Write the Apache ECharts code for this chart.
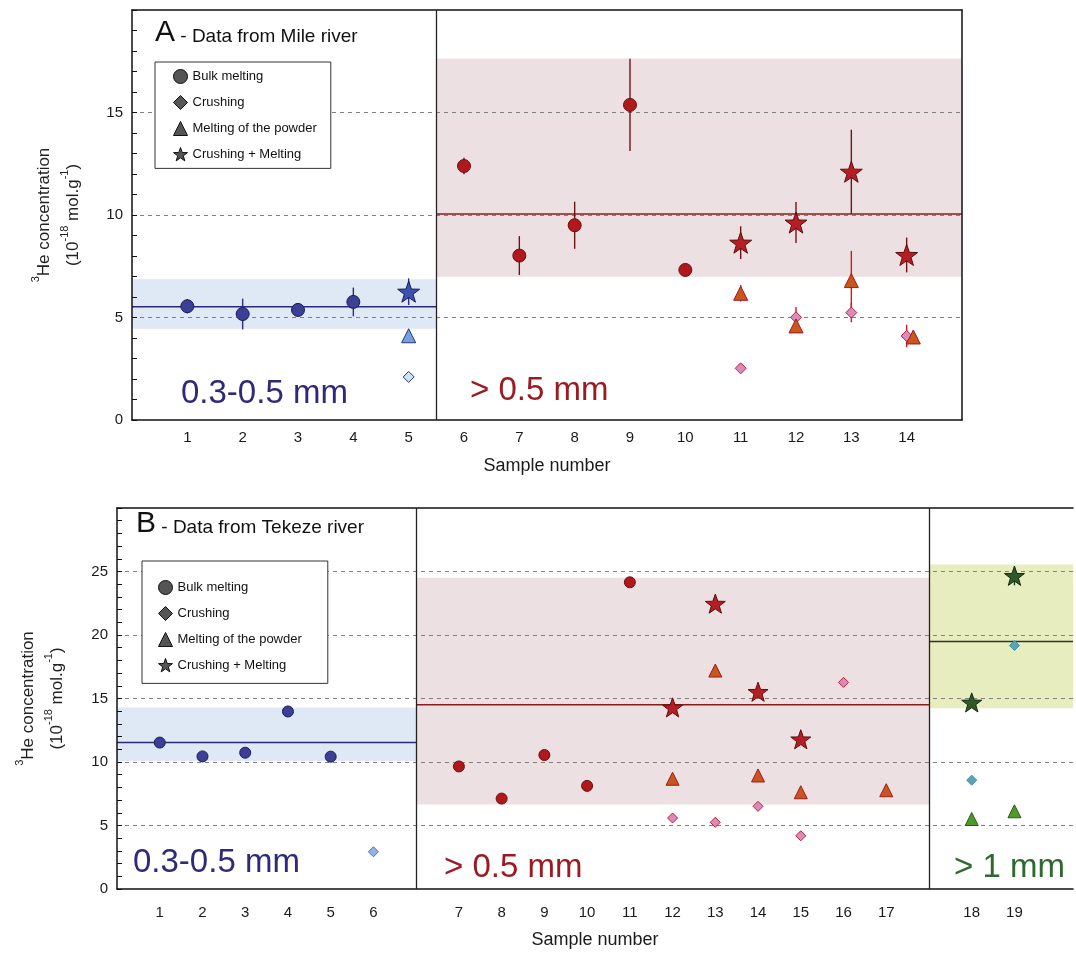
<!DOCTYPE html>
<html>
<head>
<meta charset="utf-8">
<script src="https://cdn.jsdelivr.net/npm/echarts@6/dist/echarts.min.js"></script>
<style>
html, body { margin: 0; padding: 0; background: #fff; }
#chart { width: 1076px; height: 954px; }
</style>
</head>
<body>
<div id="chart"></div>
<script>
/* A - Mile river, x = sample number */
var aSampleLabels = [1, 2, 3, 4, 5, 6, 7, 8, 9, 10, 11, 12, 13, 14];
var aBulkX = [1, 2, 3, 4, 6, 7, 8, 9, 10];
var aBulkY = [5.55, 5.17, 5.37, 5.76, 12.39, 8.02, 9.5, 15.37, 7.32];
var aBulkErr = [0.35, 0.75, 0.1, 0.7, 0.4, 0.95, 1.15, 2.25, 0.2];
var aCrushX = [5, 11, 12, 13, 14];
var aCrushY = [2.1, 2.52, 5.01, 5.24, 4.1];
var aCrushErr = [0, 0.15, 0.5, 0.47, 0.55];
var aPowderX = [5, 11, 12, 13, 14.12];
var aPowderY = [4.11, 6.18, 4.59, 6.8, 4.05];
var aPowderErr = [0.15, 0.4, 0.35, 1.45, 0];
var aStarX = [5, 11, 12, 13, 14];
var aStarY = [6.26, 8.65, 9.63, 12.11, 8.05];
var aStarErr = [0.65, 0.8, 1.0, 2.05, 0.85];
// size classes (mean value and its spread)
var aClassFrom = [0, 5.5];
var aClassTo = [5.5, 15];
var aClassLow = [4.45, 6.99];
var aClassHigh = [6.87, 17.64];
var aClassMean = [5.53, 10.05];
var aClassText = ['0.3-0.5 mm', '> 0.5 mm'];

/* B - Tekeze river, samples placed on axis positions (gaps between classes) */
var bSampleLabels = [1, 2, 3, 4, 5, 6, 7, 8, 9, 10, 11, 12, 13, 14, 15, 16, 17, 18, 19];
var bSamplePos = [1, 2, 3, 4, 5, 6, 8, 9, 10, 11, 12, 13, 14, 15, 16, 17, 18, 20, 21];
var bBulkS = [1, 2, 3, 4, 5, 7, 8, 9, 10, 11];
var bBulkY = [11.53, 10.44, 10.73, 13.98, 10.42, 9.65, 7.12, 10.55, 8.12, 24.15];
var bCrushS = [6, 12, 13, 14, 15, 16, 18, 19];
var bCrushY = [2.93, 5.59, 5.25, 6.51, 4.19, 16.27, 8.57, 19.17];
var bPowderS = [12, 13, 14, 15, 17, 18, 19];
var bPowderY = [8.68, 17.2, 8.94, 7.62, 7.78, 5.51, 6.12];
var bStarS = [12, 13, 14, 15, 18, 19];
var bStarY = [14.3, 22.47, 15.53, 11.79, 14.69, 24.66];
var bStarErr = [0, 0, 0, 0, 0, 0.75];
var bClassFrom = [0, 7, 19];
var bClassTo = [7, 19, 22.37];
var bClassLow = [10.07, 6.65, 14.24];
var bClassHigh = [14.3, 24.5, 25.55];
var bClassMean = [11.53, 14.5, 19.49];
var bClassText = ['0.3-0.5 mm', '> 0.5 mm', '> 1 mm'];

var methodNames = ['Bulk melting', 'Crushing', 'Melting of the powder', 'Crushing + Melting'];

var FONT = '"Liberation Sans", Arial, Helvetica, sans-serif';
var STAR = 'path://M50,2 L61.8,36.2 L97.6,36.9 L69,58.6 L79.4,93 L50,72.5 L20.6,93 L31,58.6 L2.4,36.9 L38.2,36.2 Z';

// colours per size class: [fill, border, error bar]
var blueA = { bulk: ['#3b3f96', '#1a1b58', '#2b2f7a'], crush: ['#cde3ef', '#2b3288', '#2b2f7a'],
	powder: ['#76a1da', '#2b3288', '#2b2f7a'], star: ['#3d52ad', '#1a1b58', '#2b2f7a'],
	band: '#dfe8f5', mean: '#2b2a7a', text: '#2d2a7c' };
var blueB = { bulk: ['#3b3f96', '#1a1b58', '#2b2f7a'], crush: ['#93b3e8', '#4b6cc4', '#4b6cc4'],
	powder: ['#76a1da', '#2b3288', '#2b2f7a'], star: ['#3d52ad', '#1a1b58', '#2b2f7a'],
	band: '#dfe8f5', mean: '#2b2a7a', text: '#2d2a7c' };
var red = { bulk: ['#b0181c', '#6a0e0e', '#6e1414'], crush: ['#d78cbf', '#c81e2e', '#c42020'],
	powder: ['#c9561c', '#a3181c', '#c42020'], star: ['#b51f24', '#5c0d0d', '#6e1414'],
	band: '#ede0e2', mean: '#8b1a1a', text: '#9a1b22' };
var green = { bulk: ['#2e5a2a', '#142814', '#1e3a1e'], crush: ['#5aa5b5', '#468ba0', '#468ba0'],
	powder: ['#4e9b2c', '#2a5a1a', '#2a5a1a'], star: ['#2e5a2a', '#142814', '#1e3a1e'],
	band: '#e8edc0', mean: '#2a3a20', text: '#2e6a30' };
var palA = [blueA, red];
var palB = [blueB, red, green];

function classOf(from, to, x) {
	for (var i = 0; i < from.length; i++) {
		if (x >= from[i] && x < to[i]) return i;
	}
	return from.length - 1;
}

// builds scatter points and error bars of one method
function buildSet(xs, ys, errs, from, to, pal, kind) {
	var pts = [], bars = [];
	for (var i = 0; i < xs.length; i++) {
		var c = pal[classOf(from, to, xs[i])][kind];
		pts.push({ value: [xs[i], ys[i]], itemStyle: { color: c[0], borderColor: c[1], borderWidth: 1, opacity: 1 } });
		if (errs && errs[i]) {
			bars.push({ value: [xs[i], ys[i], errs[i]], itemStyle: { color: c[2] } });
		}
	}
	return { pts: pts, bars: bars };
}

function toPos(samples) {
	return samples.map(function (s) { return bSamplePos[s - 1]; });
}

var aSets = [
	buildSet(aBulkX, aBulkY, aBulkErr, aClassFrom, aClassTo, palA, 'bulk'),
	buildSet(aCrushX, aCrushY, aCrushErr, aClassFrom, aClassTo, palA, 'crush'),
	buildSet(aPowderX, aPowderY, aPowderErr, aClassFrom, aClassTo, palA, 'powder'),
	buildSet(aStarX, aStarY, aStarErr, aClassFrom, aClassTo, palA, 'star')
];
var bSets = [
	buildSet(toPos(bBulkS), bBulkY, null, bClassFrom, bClassTo, palB, 'bulk'),
	buildSet(toPos(bCrushS), bCrushY, null, bClassFrom, bClassTo, palB, 'crush'),
	buildSet(toPos(bPowderS), bPowderY, null, bClassFrom, bClassTo, palB, 'powder'),
	buildSet(toPos(bStarS), bStarY, bStarErr, bClassFrom, bClassTo, palB, 'star')
];

function bandData(from, to, low, high, mean, pal) {
	var out = [];
	for (var i = 0; i < from.length; i++) {
		out.push({ value: [from[i], to[i], low[i], high[i], mean[i]], band: pal[i].band, mean: pal[i].mean });
	}
	return out;
}

var bandsA = bandData(aClassFrom, aClassTo, aClassLow, aClassHigh, aClassMean, palA);
var bandsB = bandData(bClassFrom, bClassTo, bClassLow, bClassHigh, bClassMean, palB);

function renderBand(params, api) {
	var d = params.dataIndex;
	var x0 = api.value(0), x1 = api.value(1), lo = api.value(2), hi = api.value(3), m = api.value(4);
	var tl = api.coord([x0, hi]), br = api.coord([x1, lo]);
	var ml = api.coord([x0, m]), mr = api.coord([x1, m]);
	var raw = params.seriesIndex === 0 ? bandsA[d] : bandsB[d];
	return {
		type: 'group',
		children: [
			{ type: 'rect', shape: { x: tl[0], y: tl[1], width: br[0] - tl[0], height: br[1] - tl[1] },
				style: { fill: raw.band } },
			{ type: 'line', shape: { x1: ml[0], y1: ml[1], x2: mr[0], y2: mr[1] },
				style: { stroke: raw.mean, lineWidth: 1.5 } }
		]
	};
}

function renderErr(params, api) {
	var x = api.value(0), y = api.value(1), e = api.value(2);
	var p1 = api.coord([x, y - e]), p2 = api.coord([x, y + e]);
	return { type: 'line', shape: { x1: p1[0], y1: p1[1], x2: p2[0], y2: p2[1] },
		style: { stroke: api.visual('color'), lineWidth: 1.4 } };
}

var symbols = ['circle', 'diamond', 'triangle', STAR];
var sizesA = [13, 11, 14, 22];
var sizesB = [11, 10, 13, 20];

function dividerLine(values) {
	return {
		silent: true, symbol: ['none', 'none'], label: { show: false }, animation: false,
		lineStyle: { color: '#222', width: 1.3, type: 'solid' },
		data: values.map(function (v) { return { xAxis: v }; })
	};
}

var series = [
	{ type: 'custom', name: 'bandsA', xAxisIndex: 0, yAxisIndex: 0, z: 1, silent: true,
		renderItem: renderBand, data: bandsA, encode: { x: [0, 1], y: [2, 3] },
		markLine: dividerLine(aClassTo.slice(0, -1)) },
	{ type: 'custom', name: 'bandsB', xAxisIndex: 2, yAxisIndex: 2, z: 1, silent: true,
		renderItem: renderBand, data: bandsB, encode: { x: [0, 1], y: [2, 3] },
		markLine: dividerLine(bClassTo.slice(0, -1)) },
	{ type: 'custom', name: 'errA', xAxisIndex: 0, yAxisIndex: 0, z: 2, silent: true,
		renderItem: renderErr, encode: { x: 0, y: 1 },
		data: [].concat(aSets[0].bars, aSets[1].bars, aSets[2].bars, aSets[3].bars) },
	{ type: 'custom', name: 'errB', xAxisIndex: 2, yAxisIndex: 2, z: 2, silent: true,
		renderItem: renderErr, encode: { x: 0, y: 1 },
		data: [].concat(bSets[3].bars) }
];
for (var k = 0; k < 4; k++) {
	series.push({ type: 'scatter', name: methodNames[k], xAxisIndex: 0, yAxisIndex: 0, z: 3,
		symbol: symbols[k], symbolSize: sizesA[k], symbolKeepAspect: true,
		itemStyle: { opacity: 1 }, data: aSets[k].pts });
	series.push({ type: 'scatter', name: methodNames[k], xAxisIndex: 2, yAxisIndex: 2, z: 3,
		symbol: symbols[k], symbolSize: sizesB[k], symbolKeepAspect: true,
		itemStyle: { opacity: 1 }, data: bSets[k].pts });
}

var legendItems = methodNames.map(function (n, i) { return { name: n, icon: symbols[i] }; });
function legendBox(left, top, padding) {
	return {
		left: left, top: top, orient: 'vertical', padding: padding, itemGap: 11,
		itemWidth: 14, itemHeight: 14, selectedMode: false, backgroundColor: '#fff',
		borderColor: '#333', borderWidth: 1, borderRadius: 0, data: legendItems,
		itemStyle: { color: '#555', borderColor: '#111', borderWidth: 1, opacity: 1 },
		textStyle: { fontSize: 13, color: '#111', fontFamily: FONT }
	};
}

var yName = '{sup|3}He concentration\n({n|10}{sup|-18} mol.g{sup|-1})';
function yAxisMain(grid, max, gap) {
	return {
		type: 'value', gridIndex: grid, min: 0, max: max, interval: 5, z: 1.5,
		name: yName, nameLocation: 'middle', nameGap: gap,
		nameTextStyle: { fontSize: 17, lineHeight: 29, color: '#222', fontFamily: FONT,
			rich: { sup: { fontSize: 11, verticalAlign: 'top', lineHeight: 22, fontFamily: FONT, color: '#222' },
				n: { fontSize: 17, fontFamily: FONT, color: '#222' } } },
		axisLine: { show: true, lineStyle: { color: '#111', width: 1.5 } },
		axisTick: { show: true, inside: true, length: 5, lineStyle: { color: '#111' } },
		minorTick: { show: true, splitNumber: 5, length: 5, lineStyle: { color: '#111' } },
		axisLabel: { fontSize: 15, color: '#1a1a1a', fontFamily: FONT, margin: 9, showMaxLabel: false },
		splitLine: { show: true, showMinLine: false, showMaxLine: false,
			lineStyle: { color: '#808080', type: [4, 4], width: 1 } }
	};
}
function frameAxis(grid, pos, min, max) {
	return {
		type: 'value', gridIndex: grid, position: pos, min: min, max: max, z: 1.5,
		axisLine: { show: true, onZero: false, lineStyle: { color: '#111', width: 1.5 } },
		axisTick: { show: false }, axisLabel: { show: false }, splitLine: { show: false }
	};
}
function xAxisMain(grid, max, labelFn, margin, gap) {
	return {
		type: 'value', gridIndex: grid, min: 0, max: max, interval: 1, z: 1.5,
		name: 'Sample number', nameLocation: 'middle', nameGap: gap,
		nameTextStyle: { fontSize: 18, color: '#1a1a1a', fontFamily: FONT },
		axisLine: { show: true, onZero: false, lineStyle: { color: '#111', width: 1.5 } },
		axisTick: { show: false },
		axisLabel: { fontSize: 15, color: '#1a1a1a', fontFamily: FONT, margin: margin,
			showMinLabel: true, showMaxLabel: true, formatter: labelFn },
		splitLine: { show: false }
	};
}

function textLabel(x, y, str, color) {
	return { type: 'text', x: x, y: y, z: 10, silent: true,
		style: { text: str, fill: color, fontSize: 33, fontFamily: FONT, verticalAlign: 'middle' } };
}
function panelTitle(left, top, letter, rest) {
	return { type: 'text', left: left, top: top, z: 10, silent: true,
		style: { text: '{a|' + letter + '}{b| - ' + rest + '}',
			rich: { a: { fontSize: 30, fontFamily: FONT, fill: '#111', verticalAlign: 'bottom' },
				b: { fontSize: 19, fontFamily: FONT, fill: '#111', verticalAlign: 'bottom', padding: [0, 0, 2, 0] } } } };
}

var option = {
	animation: false,
	backgroundColor: '#fff',
	textStyle: { fontFamily: FONT },
	grid: [
		{ left: 132, top: 10, right: 114, bottom: 534 },
		{ left: 117, top: 508, right: -2, bottom: 65 }
	],
	xAxis: [
		xAxisMain(0, 15, function (v) { return aSampleLabels.indexOf(v) < 0 ? '' : String(v); }, 10, 37),
		frameAxis(0, 'top', 0, 15),
		xAxisMain(1, 22.37, function (v) {
			var i = bSamplePos.indexOf(v);
			return i < 0 ? '' : String(bSampleLabels[i]);
		}, 16, 42),
		frameAxis(1, 'top', 0, 22.37)
	],
	yAxis: [
		yAxisMain(0, 20, 44),
		frameAxis(0, 'right', 0, 20),
		yAxisMain(1, 30, 45)
	],
	legend: [
		legendBox(155, 62, [7, 14, 7, 18]),
		legendBox(142, 561, [19, 26, 11, 16])
	],
	graphic: [
		panelTitle(155, 18, 'A', 'Data from Mile river'),
		panelTitle(136, 509, 'B', 'Data from Tekeze river'),
		textLabel(181, 393.5, aClassText[0], palA[0].text),
		textLabel(470, 391, aClassText[1], palA[1].text),
		textLabel(133, 862.5, bClassText[0], palB[0].text),
		textLabel(444, 867.5, bClassText[1], palB[1].text),
		textLabel(954, 867.5, bClassText[2], palB[2].text)
	],
	series: series
};

var chart = echarts.init(document.getElementById('chart'));
chart.setOption(option);
</script>
</body>
</html>
